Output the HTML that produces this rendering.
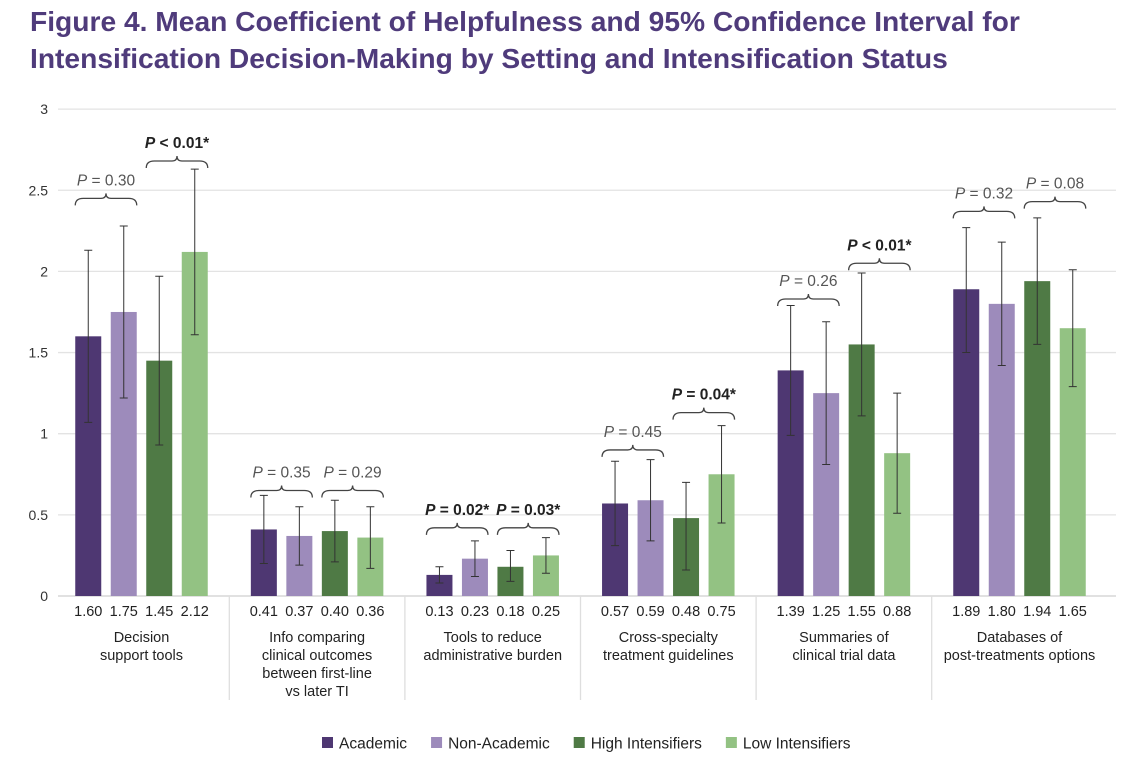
<!DOCTYPE html>
<html><head><meta charset="utf-8"><style>
body{margin:0;background:#fff;width:1134px;height:768px;overflow:hidden;font-family:"Liberation Sans",sans-serif}
h1{position:absolute;left:30px;top:3px;margin:0;font-size:28.2px;line-height:37px;color:#4f3b7b;font-weight:bold}
svg{position:absolute;left:0;top:0}
</style></head><body>
<h1>Figure 4. Mean Coefficient of Helpfulness and 95% Confidence Interval for<br>Intensification Decision-Making by Setting and Intensification Status</h1>
<svg id="c" width="1134" height="768"></svg>
<script>
const categories=[["Decision","support tools"],["Info comparing","clinical outcomes","between first-line","vs later TI"],["Tools to reduce","administrative burden"],["Cross-specialty","treatment guidelines"],["Summaries of","clinical trial data"],["Databases of","post-treatments options"]];
const seriesNames=["Academic","Non-Academic","High Intensifiers","Low Intensifiers"];
const academic=[1.60,0.41,0.13,0.57,1.39,1.89];
const nonAcademic=[1.75,0.37,0.23,0.59,1.25,1.80];
const highInt=[1.45,0.40,0.18,0.48,1.55,1.94];
const lowInt=[2.12,0.36,0.25,0.75,0.88,1.65];
const lowCI=[[1.07,0.20,0.08,0.31,0.99,1.50],[1.22,0.19,0.12,0.34,0.81,1.42],[0.93,0.21,0.09,0.16,1.11,1.55],[1.61,0.17,0.14,0.45,0.51,1.29]];
const highCI=[[2.13,0.62,0.18,0.83,1.79,2.27],[2.28,0.55,0.34,0.84,1.69,2.18],[1.97,0.59,0.28,0.70,1.99,2.33],[2.63,0.55,0.36,1.05,1.25,2.01]];
const pLeft=["0.30","0.35","0.02*","0.45","0.26","0.32"];
const pLeftBold=[false,false,true,false,false,false];
const pLeftY=[2.45,0.65,0.42,0.90,1.83,2.37];
const pRight=["< 0.01*","0.29","0.03*","0.04*","< 0.01*","0.08"];
const pRightBold=[true,false,true,true,true,false];
const pRightY=[2.68,0.65,0.42,1.13,2.05,2.43];
const yTicks=[0,0.5,1,1.5,2,2.5,3];
const tickLabels=["0","0.5","1","1.5","2","2.5","3"];
const colors=["#4e3772","#9d8bbb","#4f7a45","#93c283"];
const series=[academic,nonAcademic,highInt,lowInt];
const svg=document.getElementById('c');const NS="http://www.w3.org/2000/svg";
function y(v){return 596-v*162.3;}
const x0=53.7,band=175.6,step=35.5,bw=26;
function barX(g,s){return x0+g*band+band/2+(s-1.5)*step-bw/2;}
function mk(t,a,txt){const e=document.createElementNS(NS,t);for(const k in a)e.setAttribute(k,a[k]);if(txt!==undefined)e.textContent=txt;svg.appendChild(e);return e;}
yTicks.forEach((v,i)=>{
 const l=mk('line',{x1:58,x2:1116,y1:y(v),y2:y(v),stroke:v===0?'#cfcfcf':'#e3e3e3','stroke-width':1.3});
 
 
 const t=mk('text',{x:48,y:y(v)+5,'text-anchor':'end','font-size':14,fill:'#333'},tickLabels[i]);
 
 
});
for(let g=1;g<6;g++){const l=mk('line',{x1:x0+g*band,x2:x0+g*band,y1:596,y2:700,stroke:'#dedede','stroke-width':1.3});
 
 }
function brace(xa,xb,yy,label,bold){
 const m=(xa+xb)/2,h=7;
 const p=mk('path',{d:`M${xa},${yy+h} Q${xa},${yy} ${xa+8},${yy} L${m-5},${yy} Q${m},${yy} ${m},${yy-5} Q${m},${yy} ${m+5},${yy} L${xb-8},${yy} Q${xb},${yy} ${xb},${yy+h}`,fill:'none',stroke:'#444','stroke-width':1.3});
 
 
 const t=mk('text',{x:m,y:yy-13,'text-anchor':'middle','font-size':15.5,fill:bold?'#222':'#555','font-weight':bold?'bold':'normal'});
 
 
 const i=document.createElementNS(NS,'tspan');i.setAttribute('font-style','italic');i.textContent='P';t.appendChild(i);
 t.appendChild(document.createTextNode(label.startsWith('<')?' '+label:' = '+label));
}
categories.forEach((cat,g)=>{
 series.forEach((arr,s)=>{
  const bx=barX(g,s),v=arr[g];
  const r=mk('rect',{x:bx,y:y(v),width:bw,height:596-y(v),fill:colors[s]});
  
  
  const cx=bx+bw/2,lo=y(lowCI[s][g]),hi=y(highCI[s][g]);
  const e=mk('path',{d:`M${cx},${lo}V${hi}M${cx-4},${lo}H${cx+4}M${cx-4},${hi}H${cx+4}`,stroke:'#333','stroke-width':1,fill:'none'});
  
  
  const t=mk('text',{x:cx,y:616,'text-anchor':'middle','font-size':14.5,fill:'#222'},v.toFixed(2));
  
  
 });
 const cx=x0+g*band+band/2;
 cat.forEach((ln,k)=>{const t=mk('text',{x:cx,y:642+k*18,'text-anchor':'middle','font-size':14.5,fill:'#222'},ln);
  
  });
 brace(barX(g,0),barX(g,1)+bw,y(pLeftY[g]),pLeft[g],pLeftBold[g]);
 brace(barX(g,2),barX(g,3)+bw,y(pRightY[g]),pRight[g],pRightBold[g]);
});
let lx=322;
seriesNames.forEach((n,s)=>{
 const r=mk('rect',{x:lx,y:737,width:11,height:11,fill:colors[s]});
 
 
 const t=mk('text',{x:lx+17,y:748.5,'font-size':15.5,fill:'#222'},n);
 
 
 lx+=17+t.getComputedTextLength()+24;
});
</script>
</body></html>
